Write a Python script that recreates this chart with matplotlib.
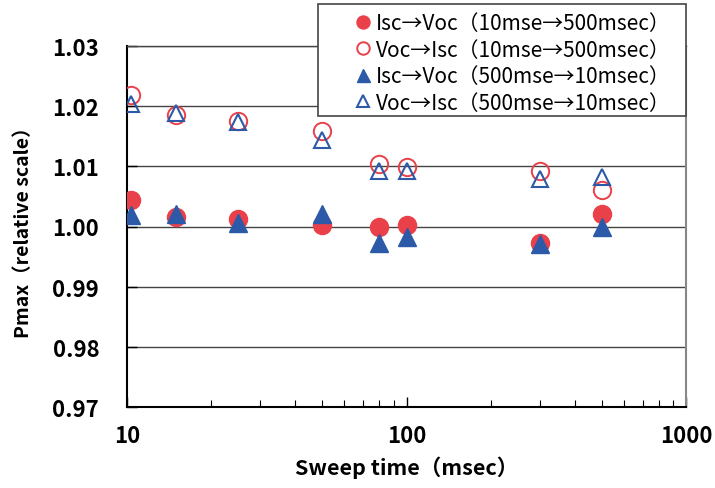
import matplotlib
matplotlib.use("Agg")
import matplotlib.pyplot as plt
from matplotlib.ticker import NullFormatter, LogLocator
from matplotlib.patches import Rectangle

plt.rcParams['font.family'] = ['Noto Sans CJK JP', 'DejaVu Sans']

sweep_time = [10.3, 15, 25, 50, 80, 100, 300, 500]
isc_voc_up = [1.0044, 1.0016, 1.0013, 1.0002, 0.9999, 1.0002, 0.9973, 1.0020]
voc_isc_up = [1.0219, 1.0186, 1.0176, 1.0159, 1.0104, 1.0099, 1.0092, 1.0060]
isc_voc_down = [1.0019, 1.0020, 1.0006, 1.0020, 0.9973, 0.9982, 0.9971, 1.0000]
voc_isc_down = [1.0204, 1.0188, 1.0173, 1.0143, 1.0093, 1.0093, 1.0079, 1.0082]

labels = ["Isc→Voc（10mse→500msec）",
          "Voc→Isc（10mse→500msec）",
          "Isc→Voc（500mse→10msec）",
          "Voc→Isc（500mse→10msec）"]
x_ticks = [10, 100, 1000]
y_ticks = [0.97, 0.98, 0.99, 1.00, 1.01, 1.02, 1.03]

RED = '#E9404A'
BLUE = '#2D5AA8'

fig = plt.figure(figsize=(7.15, 4.89), dpi=100)
ax = fig.add_axes([127/715, 1-408/489, (686-127)/715, (408-47)/489])

ax.plot(sweep_time, isc_voc_up, 'o', ms=13, color=RED, mec=RED, label=labels[0], zorder=3)
ax.plot(sweep_time, voc_isc_up, 'o', ms=12.5, mfc='none', mec=RED, mew=1.4, label=labels[1], zorder=3)
ax.plot(sweep_time, isc_voc_down, '^', ms=13, color=BLUE, mec=BLUE, label=labels[2], zorder=4)
ax.plot(sweep_time, voc_isc_down, '^', ms=12, mfc='none', mec=BLUE, mew=1.5, label=labels[3], zorder=4)

ax.set_xscale('log')
ax.set_xlim(10, 1000)
ax.set_ylim(0.97, 1.03)
ax.set_xticks(x_ticks)
ax.set_xticklabels([str(v) for v in x_ticks])
ax.xaxis.set_minor_locator(LogLocator(base=10, subs=range(2, 10)))
ax.xaxis.set_minor_formatter(NullFormatter())
ax.set_yticks(y_ticks)
ax.set_yticklabels([f"{v:.2f}" for v in y_ticks])

ax.yaxis.grid(True, color='#444444', lw=1.0)
ax.set_axisbelow(True)

ax.tick_params(axis='both', which='major', direction='in', length=7, width=1, labelsize=16)
ax.tick_params(axis='x', which='minor', direction='in', length=5, width=0.8)
ax.tick_params(axis='x', which='major', pad=12)
ax.tick_params(axis='y', which='major', pad=20)
for lab in ax.get_xticklabels() + ax.get_yticklabels():
    lab.set_fontweight('bold')

ax.spines['left'].set_color('black'); ax.spines['left'].set_linewidth(1.5)
ax.spines['bottom'].set_color('black'); ax.spines['bottom'].set_linewidth(1.5)
ax.spines['right'].set_color('#888888'); ax.spines['right'].set_linewidth(1.5)
ax.spines['top'].set_color('#444444'); ax.spines['top'].set_linewidth(1.0)

ax.set_xlabel("Sweep time（msec）", fontsize=15.5, fontweight='bold', labelpad=6)
ax.set_ylabel("Pmax（relative scale）", fontsize=14, fontweight='bold', labelpad=14)

# legend frame box
box = Rectangle(((318-127)/559, (408-117)/361), (686-318)/559, (117-5)/361,
                transform=ax.transAxes, clip_on=False, facecolor='white',
                edgecolor='#444444', lw=1.2, zorder=9)
ax.add_patch(box)

leg = ax.legend(loc='upper left', bbox_to_anchor=((353-127)/559, (408-13)/361), fontsize=15,
                numpoints=1, handlelength=1.0, handletextpad=0.1,
                labelspacing=0.22, borderpad=0, borderaxespad=0, frameon=False,
                markerscale=0.72)
leg.set_zorder(10)

fig.savefig('out.png', dpi=100)
